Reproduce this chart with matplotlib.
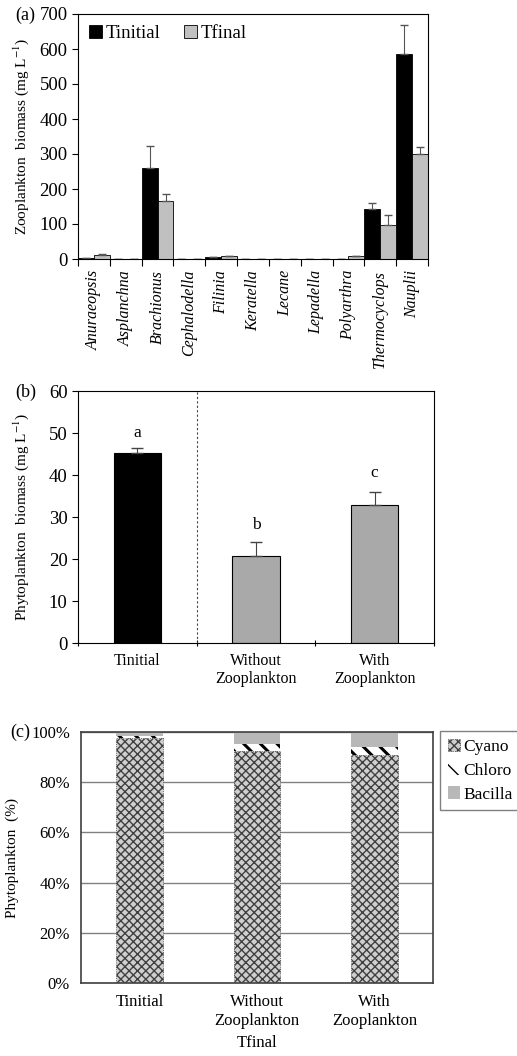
"""Zooplankton and phytoplankton biomass panels (a), (b), (c)."""

import matplotlib
matplotlib.use("Agg")
import matplotlib.pyplot as plt
import numpy as np

plt.rcParams["font.family"] = ["Liberation Serif", "DejaVu Serif"]
plt.rcParams["mathtext.fontset"] = "stix"

# Panel (a) data
taxa = ["Anuraeopsis", "Asplanchna", "Brachionus", "Cephalodella", "Filinia", "Keratella",
        "Lecane", "Lepadella", "Polyarthra", "Thermocyclops", "Nauplii"]
zoo_initial = [3, 0, 260, 0, 5, 0, 0, 0, 0, 142, 587]
zoo_initial_err = [1, 0, 63, 0, 2, 0, 0, 0, 0, 18, 83]
zoo_final = [12, 0, 165, 0, 8, 0, 0, 0, 8, 97, 300]
zoo_final_err = [3, 0, 20, 0, 1, 0, 0, 0, 2, 29, 20]

# Panel (b) data
treatments = ["Tinitial", "Without\nZooplankton", "With\nZooplankton"]
phyto_biomass = [45.2, 20.6, 32.9]
phyto_err = [1.2, 3.5, 3.1]
sig_letters = ["a", "b", "c"]
letter_y = [50, 28, 40.5]

# Panel (c) data (% composition)
cyano = [97.5, 92.4, 90.7]
chloro = [0.8, 2.8, 3.5]
bacilla = [1.7, 4.8, 5.8]

W, H = 517, 1056
fig = plt.figure(figsize=(W / 100, H / 100), dpi=100)


def px_axes(left, top, right, bottom):
    return fig.add_axes([left / W, 1 - bottom / H, (right - left) / W, (bottom - top) / H])


FS = 11.5
TICK_FS = 13.5

# ---------------- (a) ----------------
ax = px_axes(78, 14, 428, 259)
x = np.arange(len(taxa))
ax.bar(x - 0.25, zoo_initial, 0.5, color="black", edgecolor="black", linewidth=0.6,
       yerr=[np.zeros(len(x)), zoo_initial_err], error_kw=dict(ecolor="#555555", elinewidth=0.8, capsize=3),
       label="Tinitial")
ax.bar(x + 0.25, zoo_final, 0.5, color="#c0c0c0", edgecolor="black", linewidth=0.6,
       yerr=[np.zeros(len(x)), zoo_final_err], error_kw=dict(ecolor="#555555", elinewidth=0.8, capsize=3),
       label="Tfinal")
ax.set_xlim(-0.5, len(taxa) - 0.5)
ax.set_ylim(0, 700)
ax.set_yticks(range(0, 701, 100))
ax.set_xticks(np.arange(-0.5, len(taxa)), labels=[])
ax.set_xticks(x, labels=taxa, minor=True, rotation=90, fontstyle="italic")
ax.tick_params(axis="x", which="minor", length=0, labelsize=FS, pad=8)
ax.tick_params(axis="x", which="major", length=5, direction="out")
ax.tick_params(axis="y", labelsize=TICK_FS, length=4)
ax.set_ylabel("Zooplankton  biomass (mg L$^{-1}$)", fontsize=11)
ax.yaxis.set_label_coords(-0.135, 0.5)
ax.legend(loc="upper left", ncol=2, frameon=False, fontsize=13.5, handlelength=0.7,
          handleheight=0.7, handletextpad=0.2, columnspacing=1.2, borderaxespad=0.2)
fig.text(15 / W, 1 - 15 / H, "(a)", fontsize=13, va="center")

# ---------------- (b) ----------------
ax = px_axes(78, 391, 434, 643)
xb = np.arange(len(treatments))
ax.bar(xb, phyto_biomass, 0.4, color=["black", "#a9a9a9", "#a9a9a9"], edgecolor="black", linewidth=0.8,
       yerr=[np.zeros(3), phyto_err], error_kw=dict(ecolor="#444444", elinewidth=0.8, capsize=4))
for xi, yi, lt in zip(xb, letter_y, sig_letters):
    ax.text(xi, yi, lt, ha="center", va="center", fontsize=12.5)
ax.axvline(0.5, color="#444444", linestyle=(0, (2, 2)), linewidth=0.8)
ax.set_xlim(-0.5, 2.5)
ax.set_ylim(0, 60)
ax.set_yticks(range(0, 61, 10))
ax.set_xticks(np.arange(-0.5, 3), labels=[])
ax.set_xticks(xb, labels=treatments, minor=True)
ax.tick_params(axis="x", which="minor", length=0, labelsize=FS, pad=7)
ax.tick_params(axis="x", which="major", length=5, direction="inout")
ax.tick_params(axis="y", labelsize=TICK_FS, length=4)
ax.set_ylabel("Phytoplankton  biomass (mg L$^{-1}$)", fontsize=11)
ax.yaxis.set_label_coords(-0.132, 0.5)
fig.text(15 / W, 1 - 392 / H, "(b)", fontsize=13, va="center")

# ---------------- (c) ----------------
ax = px_axes(81, 732, 433, 983)
xc = np.arange(len(treatments))
ax.set_axisbelow(True)
ax.grid(axis="y", color="#808080", linewidth=1.0)
b1 = ax.bar(xc, cyano, 0.4, color="#cfcfcf", edgecolor="#404040", hatch="xxxx", linewidth=0.6,
            linestyle=":", label="Cyano")
b2 = ax.bar(xc, chloro, 0.4, bottom=cyano, color="white", edgecolor="black", hatch="\\\\",
            linewidth=0, label="Chloro")
for p in b2:
    if hasattr(p, "set_hatch_linewidth"):
        p.set_hatch_linewidth(2.2)
bottoms = np.add(cyano, chloro)
b3 = ax.bar(xc, bacilla, 0.4, bottom=bottoms, color="#b8b8b8", edgecolor="#b8b8b8", linewidth=0,
            label="Bacilla")
ax.set_xlim(-0.5, 2.5)
ax.set_ylim(0, 100)
ax.set_yticks(range(0, 101, 20), labels=[f"{v}%" for v in range(0, 101, 20)])
ax.set_xticks(xc, labels=treatments)
ax.tick_params(axis="both", length=0, labelsize=12, pad=8)
for sp in ax.spines.values():
    sp.set_color("#404040")
    sp.set_linewidth(1.2)
ax.set_ylabel("Phytoplankton  (%)", fontsize=11)
ax.yaxis.set_label_coords(-0.175, 0.5)
ax.set_xlabel("Tfinal", fontsize=12, labelpad=5)
leg = ax.legend(loc="upper left", bbox_to_anchor=(1.02, 1.005), borderaxespad=0, fontsize=12.5,
                fancybox=False, edgecolor="#606060", handlelength=0.7, handleheight=0.7,
                handletextpad=0.2, labelspacing=0.45, borderpad=0.45)
for h in leg.legend_handles:
    if hasattr(h, "set_hatch_linewidth") and h.get_label() == "Chloro":
        h.set_hatch_linewidth(1.5)
fig.text(10 / W, 1 - 732 / H, "(c)", fontsize=13, va="center")

fig.savefig("out.png", dpi=100)
